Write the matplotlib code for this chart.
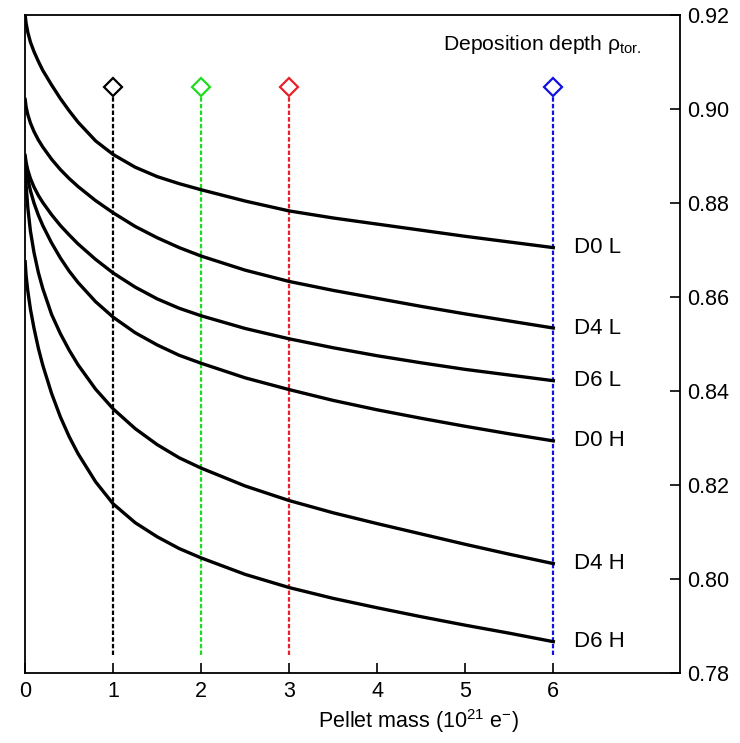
import numpy as np
import matplotlib
matplotlib.use("Agg")
import matplotlib.pyplot as plt

plt.rcParams['font.family'] = ['Liberation Sans', 'DejaVu Sans']

# pellet mass points (10^21 e-)
mass = [0, 0.01, 0.03, 0.06, 0.1, 0.15, 0.2, 0.3, 0.4, 0.5, 0.6, 0.8,
        1.0, 1.25, 1.5, 1.75, 2.0, 2.5, 3.0, 3.5, 4.0, 4.5, 5.0, 5.5, 6.0]

# deposition depth
d0_l = [0.9200, 0.9183, 0.9163, 0.9142, 0.9122, 0.9101, 0.9082, 0.9051, 0.9022, 0.8996, 0.8972, 0.8932,
        0.8903, 0.8876, 0.8856, 0.8841, 0.8828, 0.8804, 0.8783, 0.8768, 0.8755, 0.8742, 0.8729, 0.8717, 0.8705]
d4_l = [0.9020, 0.9005, 0.8988, 0.8970, 0.8952, 0.8934, 0.8919, 0.8893, 0.8871, 0.8852, 0.8835, 0.8805,
        0.8779, 0.8750, 0.8726, 0.8705, 0.8687, 0.8657, 0.8633, 0.8614, 0.8597, 0.8580, 0.8564, 0.8549, 0.8534]
d6_l = [0.8901, 0.8887, 0.8870, 0.8852, 0.8834, 0.8816, 0.8801, 0.8775, 0.8752, 0.8732, 0.8713, 0.8680,
        0.8651, 0.8621, 0.8596, 0.8576, 0.8560, 0.8533, 0.8511, 0.8492, 0.8475, 0.8460, 0.8446, 0.8434, 0.8422]
d0_h = [0.8896, 0.8876, 0.8852, 0.8826, 0.8800, 0.8774, 0.8752, 0.8715, 0.8683, 0.8655, 0.8631, 0.8590,
        0.8557, 0.8524, 0.8498, 0.8476, 0.8459, 0.8428, 0.8403, 0.8380, 0.8360, 0.8342, 0.8325, 0.8309, 0.8294]
d4_h = [0.8890, 0.8840, 0.8790, 0.8740, 0.8695, 0.8652, 0.8618, 0.8563, 0.8522, 0.8487, 0.8456, 0.8404,
        0.8362, 0.8320, 0.8286, 0.8258, 0.8236, 0.8198, 0.8167, 0.8141, 0.8118, 0.8096, 0.8074, 0.8053, 0.8033]
d6_h = [0.8675, 0.8647, 0.8613, 0.8574, 0.8534, 0.8491, 0.8455, 0.8395, 0.8345, 0.8303, 0.8267, 0.8207,
        0.8160, 0.8120, 0.8090, 0.8065, 0.8045, 0.8010, 0.7982, 0.7959, 0.7939, 0.7920, 0.7902, 0.7885, 0.7867]

curves = [d0_l, d4_l, d6_l, d0_h, d4_h, d6_h]
names = ["D0 L", "D4 L", "D6 L", "D0 H", "D4 H", "D6 H"]

# selected pellet masses, shown as dashed markers
sel_mass = [1, 2, 3, 6]
sel_colors = ["black", "#1fdc1f", "#e8202a", "#1010e0"]

fig = plt.figure(figsize=(7.4, 7.43), dpi=100)
ax = fig.add_axes([0.034, 0.094, 0.885, 0.886])

for m, c in zip(sel_mass, sel_colors):
    ax.plot([m, m], [0.7838, 0.9030], color=c, lw=1.6, ls=(0, (2, 1)))
    ax.plot(m, 0.9047, marker='D', ms=9, mfc='white', mec=c, mew=1.6)

for y, n in zip(curves, names):
    ax.plot(mass, y, color='black', lw=2.4, solid_joinstyle='round')
    ax.text(6.23, y[-1], n, fontsize=16, va='center', ha='left')

ax.text(7.0, 0.9136, r"Deposition depth $\mathregular{\rho_{tor.}}$", fontsize=15.2,
        ha='right', va='center')

ax.set_xlim(0, 7.44)
ax.set_ylim(0.78, 0.92)
ax.set_xticks(range(0, 7))
ax.set_yticks(np.arange(0.78, 0.921, 0.02))
ax.set_yticklabels(["%.2f" % v for v in np.arange(0.78, 0.921, 0.02)])
ax.yaxis.tick_right()
ax.tick_params(axis='both', direction='in', length=7, width=1.2, labelsize=15.5)
ax.tick_params(axis='y', pad=5)
ax.tick_params(axis='x', pad=6)
for s in ax.spines.values():
    s.set_linewidth(1.3)

ax.set_xlabel(r"Pellet mass (10$\mathregular{^{21}}$ e$\mathregular{^{-}}$)", fontsize=15.5)
ax.xaxis.set_label_coords(0.60, -0.052)

fig.savefig("out.png", dpi=100)
